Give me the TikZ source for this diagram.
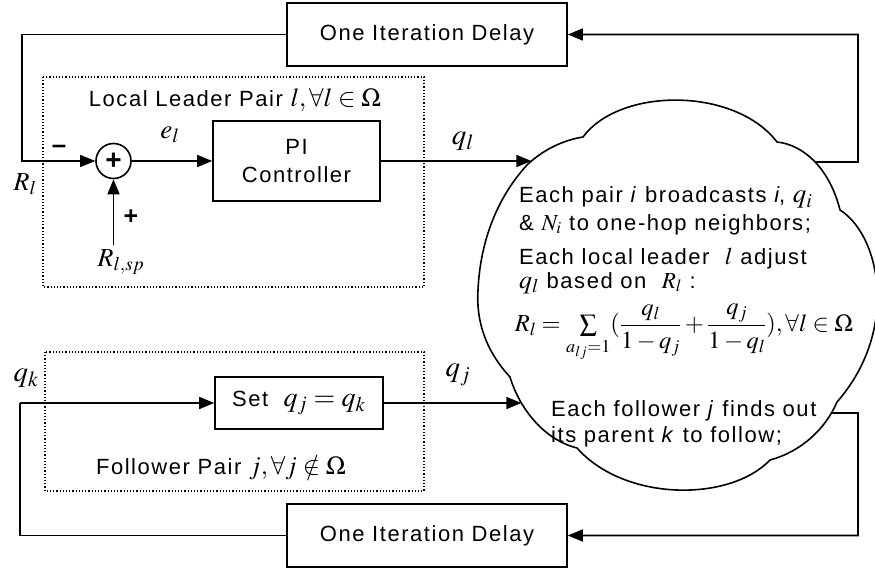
\documentclass[tikz,border=0pt]{standalone}
\usepackage{mathptmx}
\usepackage{fontspec}
\setmainfont{Liberation Sans}[LetterSpace=7]
\usetikzlibrary{arrows.meta,intersections}
\newcommand{\fsz}[1]{\fontsize{#1}{#1}\selectfont}
\begin{document}
\begin{tikzpicture}[x=1pt,y=-1pt,
  every node/.style={font=\fontsize{22}{28}\selectfont, inner sep=0pt},
  ln/.style={line width=1.6pt},
  blk/.style={draw, ln, align=center},
  lbl/.style={font=\fsz{29}},
  arr/.style={ln,-{Triangle[length=15pt,width=12pt]}},
  dbox/.style={draw, dotted, line width=1.2pt}]
\useasboundingbox (0,0) rectangle (875,572);
% dotted group boxes
\draw[dbox] (43,77) rectangle (424,287);
\draw[dbox] (45,352) rectangle (424,491);
% blocks
\node[blk, minimum width=280pt, minimum height=63pt] (d1) at (427,34.5) {One Iteration Delay};
\node[blk, minimum width=280pt, minimum height=63pt] (d2) at (427,535.5) {One Iteration Delay};
\node[blk, minimum width=167pt, minimum height=80pt] (pi) at (296.5,161) {PI\\Controller};
\node[blk, minimum width=168pt, minimum height=52pt] (set) at (299,403) {Set\ \ {\fsz{28}$q_j = q_k$}};
\node[draw, ln, circle, minimum size=35pt, font=\bfseries\fsz{28}] (sum) at (113.5,161) {+};
% labels
\node (lt) at (235,100) {Local Leader Pair {\fsz{26}$l, \forall l \in \Omega$}};
\node (ft) at (221,468) {Follower Pair {\fsz{26}$j, \forall j \notin \Omega$}};
\node[font=\fsz{27}] (el) at (170,135) {$e_l$};
\node[lbl] (qlab) at (463,141) {$q_l$};
\node[lbl] (qjlab) at (458,375) {$q_j$};
\node[lbl] (qklab) at (26,378) {$q_k$};
\node[font=\fsz{26}] (rl) at (25,184) {$R_l$};
\node[font=\fsz{26}] (rsplab) at (121,262) {$R_{l,sp}$};
\node[font=\bfseries\fsz{26}] (minus) at (59,149) {--};
\node[font=\bfseries\fsz{25}] (plusl) at (131,217) {+};
% cloud
\path[name path=cloud, draw, ln]
  (583,137) .. controls (620,87) and (735,87) .. (777,142)
  .. controls (805,145) and (830,170) .. (840,210)
  .. controls (880,235) and (900,330) .. (837,402)
  .. controls (825,430) and (800,452) .. (770,460)
  .. controls (730,502) and (625,502) .. (577,448)
  .. controls (545,440) and (520,410) .. (510,377)
  .. controls (485,350) and (476,320) .. (478,290)
  .. controls (480,245) and (495,200) .. (527,165)
  .. controls (545,148) and (565,140) .. (583,137) -- cycle;
% cloud text
\node[anchor=base west] (c1) at (519,203) {Each pair \textit{i} broadcasts \textit{i}, {\fsz{27}$q_i$}};
\node[anchor=base west] (c2) at (519,230) {\& {\fsz{23}$N_i$} to one-hop neighbors;};
\node[anchor=base west] (c3) at (519,264) {Each local leader\ \ {\fsz{24}$l$} adjust};
\node[anchor=base west] (c4) at (519,288) {{\fsz{26}$q_l$} based on\ \ {\fsz{23}$R_l$} :};
\node[font=\fsz{24.5}] (form) at (684,333) {$R_l = \sum\limits_{a_{lj}=1} ({\displaystyle\frac{q_l}{1-q_j}} + {\displaystyle\frac{q_j}{1-q_l}}), \forall l \in \Omega$};
\node[anchor=base west] (c6) at (551,416) {Each follower \textit{j} finds out};
\node[anchor=base west] (c7) at (551,442) {its parent \textit{k} to follow;};
% intersections with cloud
\path[name path=hq] (pi.east) -- (700,161);
\path[name intersections={of=cloud and hq, by={cq}}];
\path[name path=hj] (set.east) -- (700,403);
\path[name intersections={of=cloud and hj, by={cj}}];
\path[name path=hr] (700,162) -- (880,162);
\path[name intersections={of=cloud and hr, by={cr}}];
\path[name path=hb] (700,413) -- (880,413);
\path[name intersections={of=cloud and hb, by={cb}}];
\coordinate (rt) at (858,162);
\coordinate (rb) at (858,413);
\coordinate (lfb) at (22,161);
\coordinate (lfk) at (20,403);
\coordinate (rspb) at (113.5,245);
% connectors
\draw[arr] (d1.west) -| (lfb) -- (sum.west);
\draw[arr] (rspb) -- (sum.south);
\draw[arr] (sum.east) -- (pi.west);
\draw[arr] (pi.east) -- (cq);
\draw[arr] (cr) -- (rt) |- (d1.east);
\draw[arr] (lfk) -- (set.west);
\draw[ln] (d2.west) -| (lfk);
\draw[arr] (set.east) -- (cj);
\draw[arr] (cb) -- (rb) |- (d2.east);
\end{tikzpicture}
\end{document}
